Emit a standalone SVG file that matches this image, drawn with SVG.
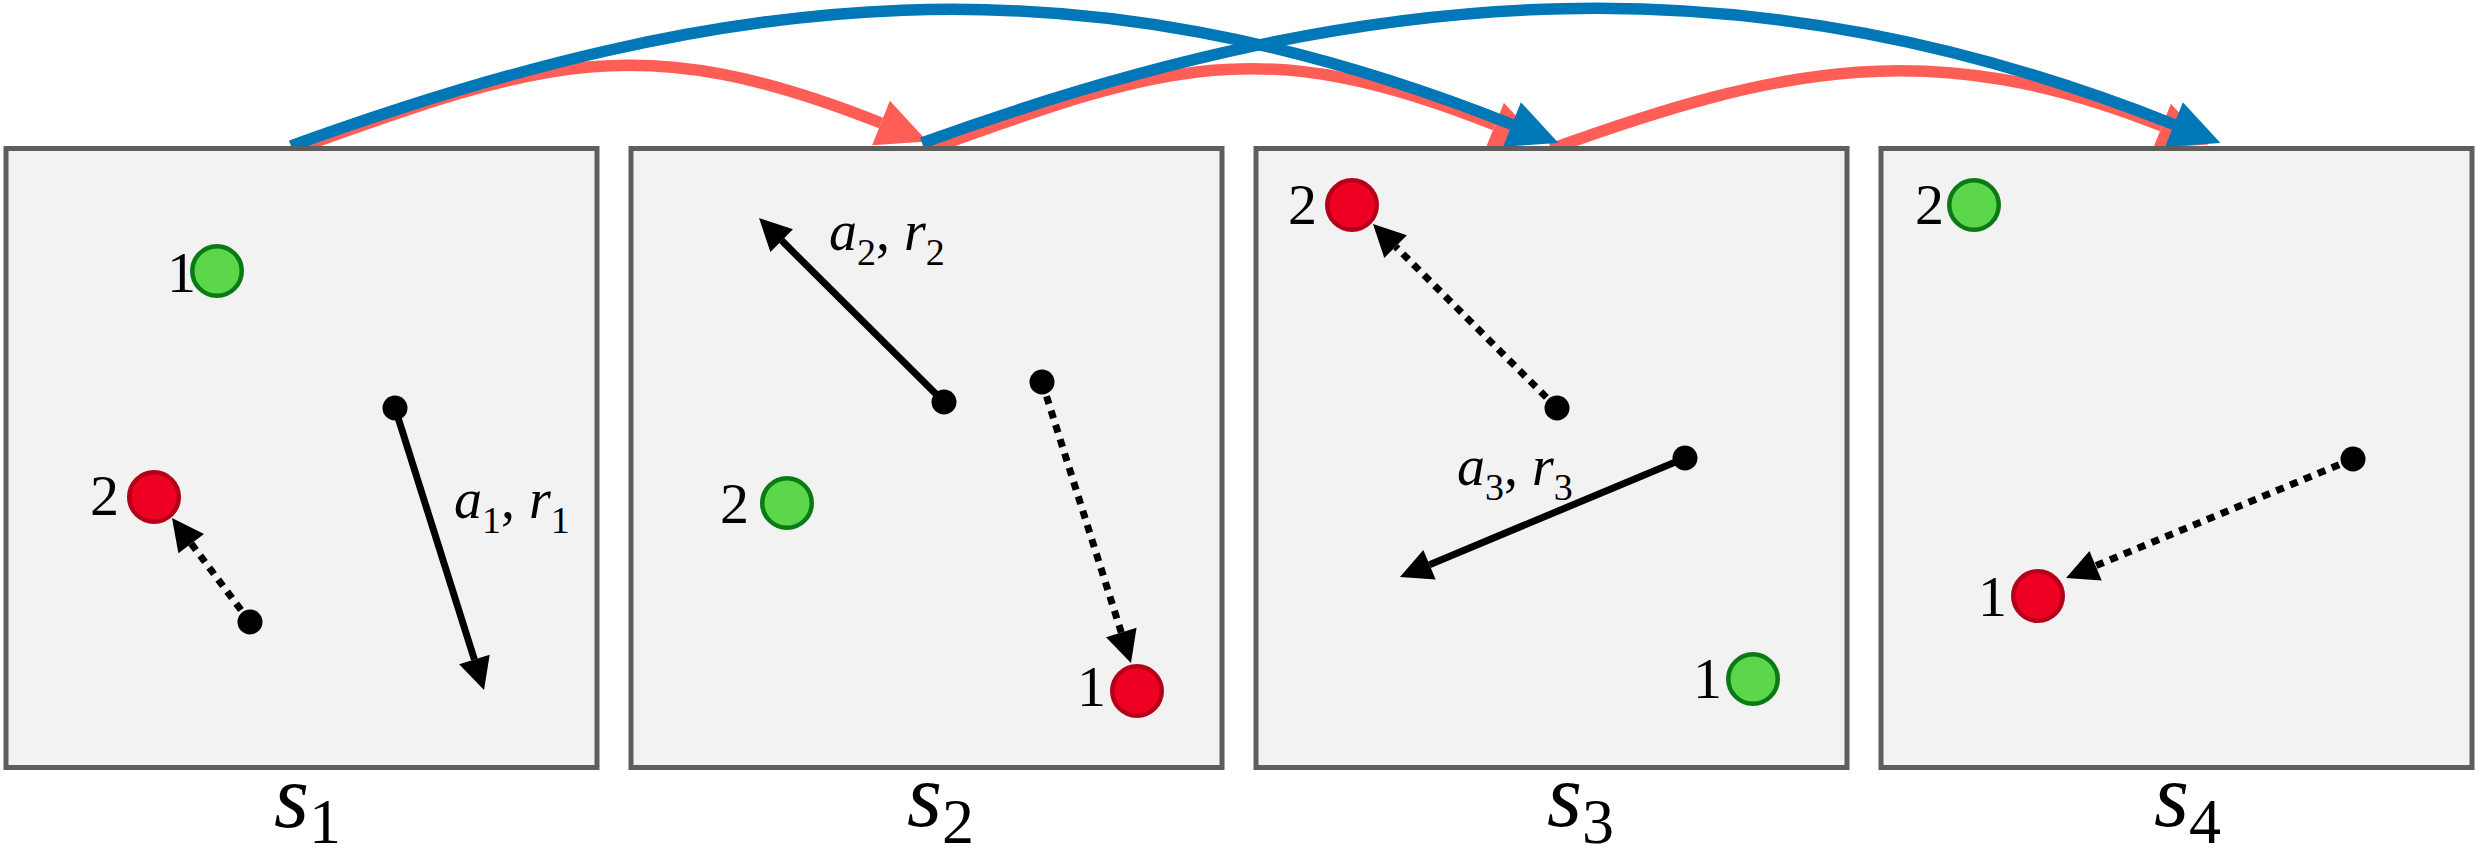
<svg xmlns="http://www.w3.org/2000/svg" width="2477" height="857" viewBox="0 0 2477 857">
<defs>
<style>
.box{fill:#f2f2f2;stroke:#5e5e5e;stroke-width:5}
.gc{fill:#5cd74b;stroke:#0b7a15;stroke-width:4.5}
.rc{fill:#ee0022;stroke:#b5001a;stroke-width:4.5}
text{font-family:'Liberation Serif','DejaVu Serif','Times New Roman',Times,serif;fill:#000}
.num{font-size:58px;text-anchor:end}
.lab{font-size:56px}
.it{font-style:italic}
.sl{font-size:90px}
.sub{font-size:64px}
.act{fill:none;stroke:#000;stroke-width:7;marker-end:url(#ak)}
.dash{stroke-dasharray:8 7;stroke-width:7}
.dotp{fill:#000}
.cr{fill:none;stroke:#ff5e57;stroke-width:11.5;marker-end:url(#ar)}
.cb{fill:none;stroke:#0077b6;stroke-width:11.5;marker-end:url(#ab)}
</style>
<marker id="ar" markerUnits="userSpaceOnUse" viewBox="0 -25 50 50" refX="0" refY="0" markerWidth="50" markerHeight="50" orient="auto" overflow="visible"><path d="M0,-24 L50,0 L0,24 z" fill="#ff5e57"/></marker>
<marker id="ab" markerUnits="userSpaceOnUse" viewBox="0 -25 50 50" refX="0" refY="0" markerWidth="50" markerHeight="50" orient="auto" overflow="visible"><path d="M0,-24 L50,0 L0,24 z" fill="#0077b6"/></marker>
<marker id="ak" markerUnits="userSpaceOnUse" viewBox="0 -17 33 34" refX="0" refY="0" markerWidth="33" markerHeight="34" orient="auto" overflow="visible"><path d="M0,-16 L32,0 L0,16 z" fill="#000"/></marker>
</defs>
<rect width="2477" height="857" fill="#fff"/>
<g id="connectors">
<path class="cr" d="M296,149 C540,61 639,27 881,123"/>
<path class="cr" d="M930,149 C1165,64 1262,32 1495,125"/>
<path class="cr" d="M1551,149 C1781,66 1934,35 2162,126"/>
<path class="cb" d="M291,146 C733,-14 1075,-49 1512,124.5"/>
<path class="cb" d="M922,143 C1382,-24 1755,-42 2174,124.5"/>
</g>
<g id="state-s1">
<rect class="box" x="6" y="148.5" width="591" height="619"/>
<circle class="gc" cx="217" cy="271" r="24.75"/>
<text class="num" x="196" y="292">1</text>
<circle class="rc" cx="154" cy="497" r="24.75"/>
<text class="num" x="119" y="515">2</text>
<path class="act dash" d="M250,622 L191.2,543.6"/>
<circle class="dotp" cx="250" cy="622" r="12.5"/>
<path class="act" d="M395,408 L474.4,659.5"/>
<circle class="dotp" cx="395" cy="408" r="12.5"/>
<text class="lab" x="454" y="518"><tspan class="it">a</tspan><tspan font-size="38" dy="15">1</tspan><tspan dy="-15">, </tspan><tspan class="it">r</tspan><tspan font-size="38" dy="15">1</tspan></text>
<text class="sl" x="274" y="827"><tspan class="it">s</tspan><tspan class="sub" dy="16">1</tspan></text>
</g>
<g id="state-s2">
<rect class="box" x="631" y="148.5" width="591" height="619"/>
<circle class="gc" cx="787" cy="503" r="24.75"/>
<text class="num" x="749" y="523">2</text>
<circle class="rc" cx="1137" cy="691" r="24.75"/>
<text class="num" x="1106" y="706">1</text>
<path class="act" d="M944,402 L781.7,240.6"/>
<circle class="dotp" cx="944" cy="402" r="12.5"/>
<path class="act dash" d="M1042,382 L1121.3,632.5"/>
<circle class="dotp" cx="1042" cy="382" r="12.5"/>
<text class="lab" x="829" y="250"><tspan class="it">a</tspan><tspan font-size="38" dy="15">2</tspan><tspan dy="-15">, </tspan><tspan class="it">r</tspan><tspan font-size="38" dy="15">2</tspan></text>
<text class="sl" x="907" y="826"><tspan class="it">s</tspan><tspan class="sub" dy="17">2</tspan></text>
</g>
<g id="state-s3">
<rect class="box" x="1256" y="148.5" width="591" height="619"/>
<circle class="rc" cx="1352" cy="205" r="24.75"/>
<text class="num" x="1317" y="224">2</text>
<circle class="gc" cx="1753" cy="679" r="24.75"/>
<text class="num" x="1722" y="698">1</text>
<path class="act dash" d="M1557,408 L1395.6,246.6"/>
<circle class="dotp" cx="1557" cy="408" r="12.5"/>
<path class="act" d="M1685,458 L1429.5,564.7"/>
<circle class="dotp" cx="1685" cy="458" r="12.5"/>
<text class="lab" x="1457" y="485"><tspan class="it">a</tspan><tspan font-size="38" dy="15">3</tspan><tspan dy="-15">, </tspan><tspan class="it">r</tspan><tspan font-size="38" dy="15">3</tspan></text>
<text class="sl" x="1547" y="826"><tspan class="it">s</tspan><tspan class="sub" dy="17">3</tspan></text>
</g>
<g id="state-s4">
<rect class="box" x="1881" y="148.5" width="591" height="619"/>
<circle class="gc" cx="1974" cy="205" r="24.75"/>
<text class="num" x="1944" y="224">2</text>
<circle class="rc" cx="2038" cy="596" r="24.75"/>
<text class="num" x="2007" y="616">1</text>
<path class="act dash" d="M2353,459 L2095.6,565.7"/>
<circle class="dotp" cx="2353" cy="459" r="12.5"/>
<text class="sl" x="2154" y="826"><tspan class="it">s</tspan><tspan class="sub" dy="17">4</tspan></text>
</g>
</svg>
